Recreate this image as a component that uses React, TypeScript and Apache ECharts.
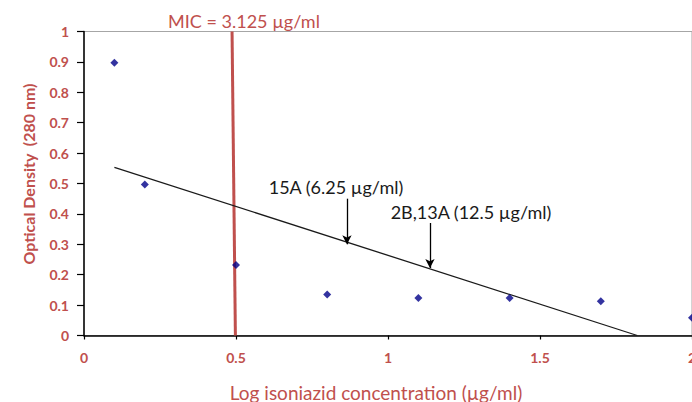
import React, { useEffect, useRef } from "react";
import * as echarts from "echarts";

// Data
const logConcentration = [0.1, 0.2, 0.5, 0.8, 1.1, 1.4, 1.7, 2.0];
const opticalDensity = [0.897, 0.497, 0.232, 0.135, 0.123, 0.123, 0.113, 0.058];

// Linear trendline endpoints (as drawn)
const trendX = [0.1, 1.82];
const trendY = [0.553, 0];

// MIC vertical marker (slightly slanted in the original)
const micX = [0.498, 0.487];
const micY = [0, 1];

// Arrow annotations: x, y start, y end
const arrowX = [0.865, 1.138];
const arrowTop = [0.45, 0.37];
const arrowTip = [0.3, 0.222];
const arrowLabels = ["15A (6.25 µg/ml)", "2B,13A (12.5 µg/ml)"];

const xTicks = { min: 0, max: 2, interval: 0.5 };
const yTicks = { min: 0, max: 1, interval: 0.1 };

const RED = "#c0504d";
const FONT = "Lato, 'Open Sans', sans-serif";

export default function App() {
  const ref = useRef<HTMLDivElement>(null);
  useEffect(() => {
    if (!ref.current) return;
    const chart = echarts.init(ref.current, undefined, { renderer: "svg" });
    const scatterData = logConcentration.map((x, i) => [x, opticalDensity[i]]);
    const trendData = trendX.map((x, i) => [x, trendY[i]]);
    const micData = micX.map((x, i) => [x, micY[i]]);
    const arrowLines = arrowX.map((x, i) => [
      { coord: [x, arrowTop[i]] },
      { coord: [x, arrowTip[i]] },
    ]);
    chart.setOption({
      animation: false,
      grid: {
        left: 84,
        top: 31.5,
        right: 0,
        bottom: 66.5,
        containLabel: false,
        outerBoundsMode: "none",
        show: true,
        borderColor: "#a6a6a6",
        borderWidth: 1,
        backgroundColor: "transparent",
      },
      xAxis: {
        type: "value",
        min: xTicks.min,
        max: xTicks.max,
        interval: xTicks.interval,
        axisLine: { show: true, onZero: false, lineStyle: { color: "#000", width: 1.5 } },
        axisTick: { show: true, inside: false, length: 4, lineStyle: { color: "#000", width: 1.2 } },
        axisLabel: {
          margin: 15,
          color: RED,
          fontWeight: "bold",
          fontSize: 14,
          fontFamily: FONT,
          showMaxLabel: true,
        },
        splitLine: { show: false },
      },
      yAxis: {
        type: "value",
        min: yTicks.min,
        max: yTicks.max,
        interval: yTicks.interval,
        axisLine: { show: true, onZero: false, lineStyle: { color: "#000", width: 1.5 } },
        axisTick: { show: true, inside: false, length: 7, lineStyle: { color: "#000", width: 1.2 } },
        axisLabel: {
          margin: 15,
          color: RED,
          fontWeight: "bold",
          fontSize: 14,
          fontFamily: FONT,
        },
        splitLine: { show: false },
      },
      series: [
        {
          name: "MIC",
          type: "line",
          data: micData,
          showSymbol: false,
          symbol: "none",
          lineStyle: { color: RED, width: 3 },
          silent: true,
          z: 1,
        },
        {
          name: "Trendline",
          type: "line",
          data: trendData,
          showSymbol: false,
          symbol: "none",
          lineStyle: { color: "#1a1a1a", width: 1.3 },
          silent: true,
          z: 2,
          markLine: {
            silent: true,
            symbol: ["none", "arrow"],
            symbolSize: [7, 9],
            lineStyle: { color: "#000", width: 1.3, type: "solid" },
            label: { show: false },
            data: arrowLines,
          },
        },
        {
          name: "Optical density",
          type: "scatter",
          data: scatterData,
          symbol: "diamond",
          symbolSize: 8,
          itemStyle: { color: "#000088" },
          z: 3,
          clip: false,
        },
      ],
      graphic: [
        {
          type: "text",
          x: 244,
          y: 21,
          style: {
            text: "MIC = 3.125 µg/ml",
            fill: RED,
            font: `18px ${FONT}`,
            align: "center",
            verticalAlign: "middle",
          },
        },
        {
          type: "text",
          x: 336,
          y: 187,
          style: {
            text: arrowLabels[0],
            fill: "#1a1a1a",
            font: `18px ${FONT}`,
            align: "center",
            verticalAlign: "middle",
          },
        },
        {
          type: "text",
          x: 471,
          y: 212,
          style: {
            text: arrowLabels[1],
            fill: "#1a1a1a",
            font: `18px ${FONT}`,
            align: "center",
            verticalAlign: "middle",
          },
        },
        {
          type: "text",
          x: 376,
          y: 392,
          style: {
            text: "Log isoniazid concentration (µg/ml)",
            fill: RED,
            font: `19px ${FONT}`,
            align: "center",
            verticalAlign: "middle",
          },
        },
        {
          type: "text",
          x: 28,
          y: 174,
          rotation: Math.PI / 2,
          style: {
            text: "Optical Density  (280 nm)",
            fill: RED,
            font: `bold 16px ${FONT}`,
            align: "center",
            verticalAlign: "middle",
          },
        },
      ],
    });
    return () => chart.dispose();
  }, []);
  return (
    <div
      ref={ref}
      style={{ position: "absolute", left: 0, top: 0, width: 692, height: 402, background: "#fff" }}
    />
  );
}
